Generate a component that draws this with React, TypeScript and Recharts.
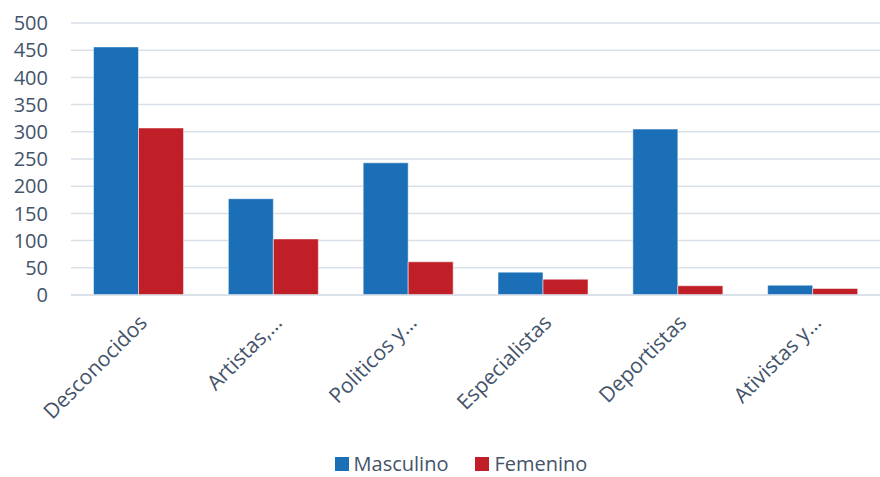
import { BarChart, Bar, XAxis, YAxis, CartesianGrid, Legend } from 'recharts';

const categories = ['Desconocidos', 'Artistas,…', 'Politicos y…', 'Especialistas', 'Deportistas', 'Ativistas y…'];
const masculino = [456, 177, 243, 42, 305, 18];
const femenino = [307, 103, 61, 29, 17, 12];
const yTicks = [0, 50, 100, 150, 200, 250, 300, 350, 400, 450, 500];
const seriesNames = ['Masculino', 'Femenino'];

const BLUE = '#1a6fb7';
const RED = '#c01f27';
const TEXT = '#44546a';
const GRID = '#d9dfe7';
const FONT = '"Open Sans", sans-serif';
const seriesColors = [BLUE, RED];

const data = categories.map((name, i) => ({
  name,
  Masculino: masculino[i],
  Femenino: femenino[i],
}));

const AngledTick = ({ x, y, payload }: any) => (
  <text
    x={x + 10}
    y={y + 21}
    transform={`rotate(-45, ${x + 10}, ${y + 21})`}
    textAnchor="end"
    fill={TEXT}
    fontSize={21}
    fontFamily={FONT}
  >
    {payload.value}
  </text>
);

const LegendContent = () => (
  <div style={{ display: 'flex', justifyContent: 'center', alignItems: 'center', fontFamily: FONT, fontSize: 20, color: TEXT, lineHeight: '20px', height: 20 }}>
    {seriesNames.map((name, i) => (
      <div key={name} style={{ display: 'flex', alignItems: 'center', marginRight: i === 0 ? 27 : 0 }}>
        <span style={{ width: 14, height: 14, background: seriesColors[i], marginRight: 5, display: 'inline-block' }} />
        <span>{name}</span>
      </div>
    ))}
  </div>
);

const App = () => {
  return (
    <div style={{ position: 'absolute', left: 0, top: 0, background: '#fff' }}>
      <BarChart
        width={880}
        height={477}
        data={data}
        margin={{ top: 23, right: 0, bottom: 0, left: 0 }}
        barGap={0}
        barCategoryGap="16.7%"
      >
        <CartesianGrid vertical={false} stroke={GRID} strokeWidth={1.5} />
        <XAxis
          dataKey="name"
          interval={0}
          tickLine={false}
          axisLine={{ stroke: GRID, strokeWidth: 1.5 }}
          tick={<AngledTick />}
          height={160}
        />
        <YAxis
          domain={[0, 500]}
          ticks={yTicks}
          interval={0}
          axisLine={false}
          tickLine={false}
          width={71}
          tickMargin={17}
          tick={{ fill: TEXT, fontSize: 20, fontFamily: FONT }}
        />
        <Legend
          verticalAlign="bottom"
          height={22}
          content={<LegendContent />}
          wrapperStyle={{ paddingLeft: 21, bottom: 1 }}
        />
        <Bar dataKey="Masculino" fill={BLUE} stroke="#ffffff" strokeOpacity={0.5} strokeWidth={1} isAnimationActive={false} />
        <Bar dataKey="Femenino" fill={RED} stroke="#ffffff" strokeOpacity={0.5} strokeWidth={1} isAnimationActive={false} />
      </BarChart>
    </div>
  );
};

export default App;
